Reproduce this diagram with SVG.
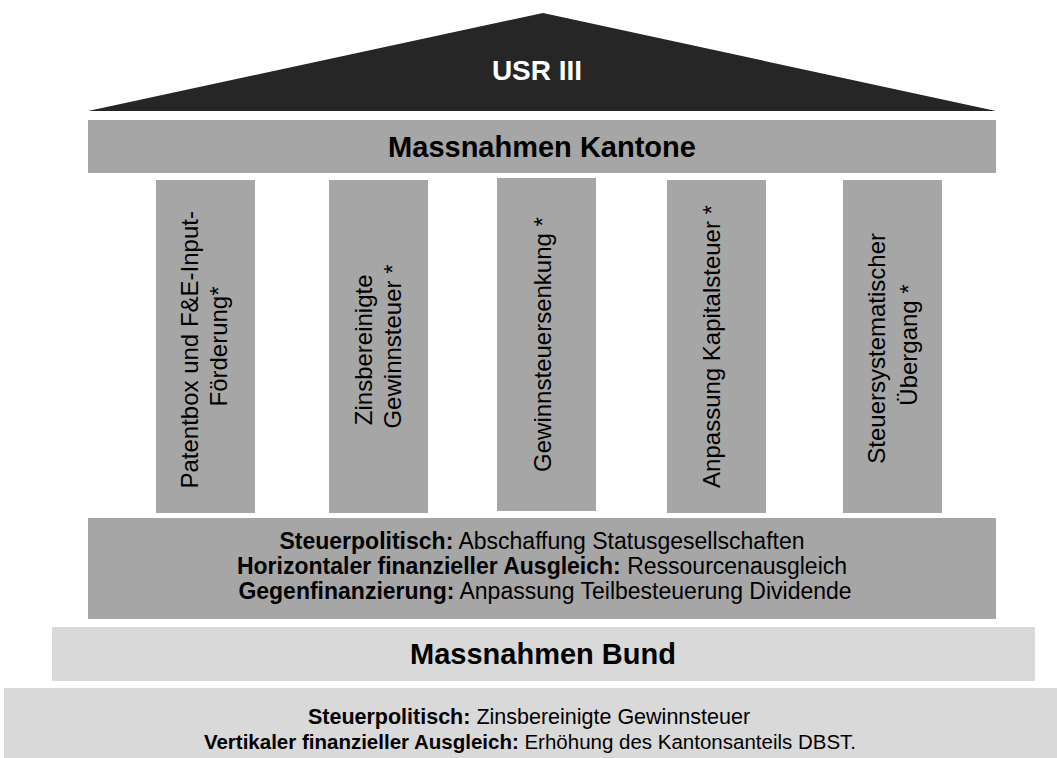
<svg xmlns="http://www.w3.org/2000/svg" width="1057" height="758" viewBox="0 0 1057 758">
  <style>
    text { font-family: "Liberation Sans", Arial, sans-serif; fill: #000; }
    .b { font-weight: bold; }
    .pillar { fill: #a6a6a6; }
    .dark { fill: #a6a6a6; }
    .light { fill: #d9d9d9; }
    .ptext { font-size: 24px; text-anchor: middle; }
    .mid { font-size: 23px; text-anchor: middle; }
    .low { font-size: 21.5px; text-anchor: middle; }
    .low2 { font-size: 20.5px; text-anchor: middle; }
    .head { font-size: 29px; font-weight: bold; text-anchor: middle; }
  </style>

  <!-- roof -->
  <g id="roof">
    <polygon points="88,111 543,13 996,111" fill="#262626"/>
    <text x="537" y="80" class="b" font-size="28" text-anchor="middle" style="fill:#fff">USR III</text>
  </g>

  <!-- cantonal measures header -->
  <g id="kantone">
    <rect x="88" y="120" width="908" height="53" class="dark"/>
    <text x="542" y="157" class="head">Massnahmen Kantone</text>
  </g>

  <!-- pillars -->
  <g id="pillar-patentbox">
    <rect x="156" y="180" width="99" height="333" class="pillar"/>
    <text class="ptext" transform="translate(198,346.5) rotate(-90)">
      <tspan x="0" y="0">Patentbox und F&amp;E-Input-</tspan>
      <tspan x="0" y="29">Förderung*</tspan>
    </text>
  </g>
  <g id="pillar-zinsbereinigt">
    <rect x="329" y="180" width="99" height="333" class="pillar"/>
    <text class="ptext" transform="translate(372,346.5) rotate(-90)">
      <tspan x="0" y="0">Zinsbereinigte</tspan>
      <tspan x="0" y="28.5">Gewinnsteuer *</tspan>
    </text>
  </g>
  <g id="pillar-gewinnsteuer">
    <rect x="497" y="178" width="99" height="333" class="pillar"/>
    <text class="ptext" transform="translate(551,344.5) rotate(-90)">Gewinnsteuersenkung *</text>
  </g>
  <g id="pillar-kapitalsteuer">
    <rect x="667" y="180" width="99" height="333" class="pillar"/>
    <text class="ptext" transform="translate(720,346.5) rotate(-90)">Anpassung Kapitalsteuer *</text>
  </g>
  <g id="pillar-uebergang">
    <rect x="843" y="180" width="99" height="333" class="pillar"/>
    <text class="ptext" transform="translate(885,345) rotate(-90)">
      <tspan x="0" y="0">Steuersystematischer</tspan>
      <tspan x="0" y="31.5">Übergang *</tspan>
    </text>
  </g>

  <!-- cantonal base -->
  <g id="kantone-basis">
    <rect x="88" y="518" width="908" height="101" class="dark"/>
    <text x="542" y="548.5" class="mid"><tspan class="b">Steuerpolitisch:</tspan> Abschaffung Statusgesellschaften</text>
    <text x="542" y="573.5" class="mid"><tspan class="b">Horizontaler finanzieller Ausgleich:</tspan> Ressourcenausgleich</text>
    <text x="545" y="598.5" class="mid"><tspan class="b">Gegenfinanzierung:</tspan> Anpassung Teilbesteuerung Dividende</text>
  </g>

  <!-- federal measures -->
  <g id="bund">
    <rect x="52" y="627" width="983" height="54" class="light"/>
    <text x="543" y="664" class="head">Massnahmen Bund</text>
  </g>
  <g id="bund-basis">
    <rect x="4" y="688" width="1053" height="70" class="light"/>
    <text x="529" y="724" class="low"><tspan class="b">Steuerpolitisch:</tspan> Zinsbereinigte Gewinnsteuer</text>
    <text x="530" y="749" class="low2"><tspan class="b">Vertikaler finanzieller Ausgleich:</tspan> Erhöhung des Kantonsanteils DBST.</text>
  </g>

  <!-- no connectors in this layout -->
  <g id="connectors"/>
</svg>
